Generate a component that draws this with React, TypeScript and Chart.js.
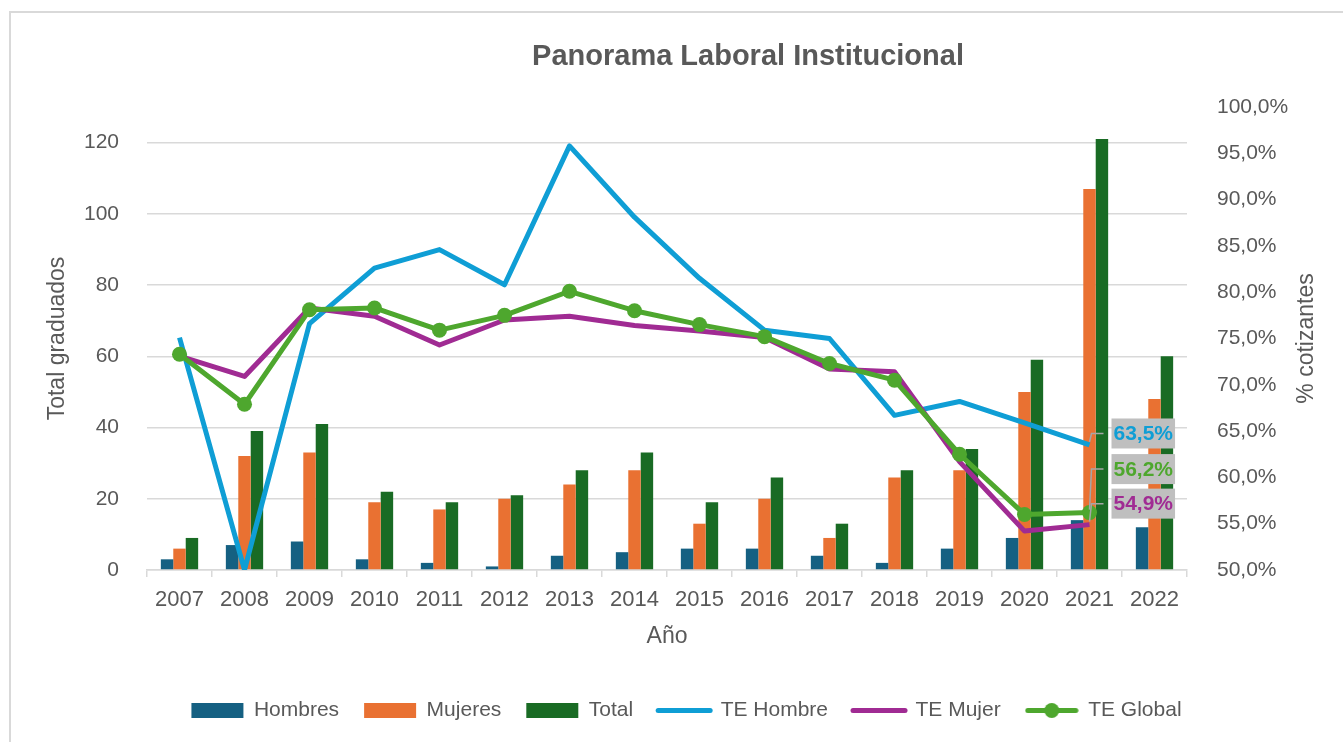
import React, { useEffect, useRef } from 'react';
import Chart from 'chart.js/auto';

// ---------- data ----------
const YEARS = ['2007', '2008', '2009', '2010', '2011', '2012', '2013', '2014', '2015', '2016', '2017', '2018', '2019', '2020', '2021', '2022'];
const HOMBRES = [3, 7, 8, 3, 2, 1, 4, 5, 6, 6, 4, 2, 6, 9, 14, 12];
const MUJERES = [6, 32, 33, 19, 17, 20, 24, 28, 13, 20, 9, 26, 28, 50, 107, 48];
const TOTAL = [9, 39, 41, 22, 19, 21, 28, 33, 19, 26, 13, 28, 34, 59, 121, 60];
const TE_HOMBRE = [75.1, 50.0, 76.6, 82.6, 84.6, 80.8, 95.8, 88.1, 81.5, 75.9, 75.0, 66.7, 68.2, 65.9, 63.5, null];
const TE_MUJER = [73.1, 70.9, 78.3, 77.4, 74.3, 77.0, 77.4, 76.4, 75.8, 75.1, 71.7, 71.4, 61.7, 54.2, 54.9, null];
const TE_GLOBAL = [73.3, 67.9, 78.1, 78.3, 75.9, 77.5, 80.1, 78.0, 76.5, 75.2, 72.3, 70.5, 62.5, 56.0, 56.2, null];

const LEFT_MIN = 0;
const LEFT_MAX = 130;
const LEFT_STEP = 20;
const RIGHT_MIN = 50;
const RIGHT_MAX = 100;
const RIGHT_STEP = 5;

const TITLE = 'Panorama Laboral Institucional';
const Y_TITLE = 'Total graduados';
const Y1_TITLE = '% cotizantes';
const X_TITLE = 'Año';
const LABEL_INDEX = 14; // 2021

// ---------- styles ----------
const FONT = "'Liberation Sans', Arial, sans-serif";
const GRAY = '#595959';
const GRID = '#D9D9D9';
const C_HOMBRES = '#156082';
const C_MUJERES = '#E97132';
const C_TOTAL = '#196B24';
const C_TEH = '#0F9ED5';
const C_TEM = '#A02B93';
const C_TEG = '#4EA72E';

const fmtPct = (v: number) => v.toFixed(1).replace('.', ',') + '%';

const END_LABELS = [
  { ds: 3, dy: -11.5, color: C_TEH },
  { ds: 5, dy: -43.5, color: C_TEG },
  { ds: 4, dy: -21, color: C_TEM },
];

const extrasPlugin = {
  id: 'extras',
  afterLayout(chart: any) {
    const t = chart.titleBlock;
    if (t) {
      const w = t.right - t.left;
      t.left = 748 - w / 2;
      t.right = t.left + w;
    }
  },
  afterDatasetsDraw(chart: any) {
    const ctx = chart.ctx;
    ctx.save();
    END_LABELS.forEach(({ ds, dy, color }) => {
      const pt = chart.getDatasetMeta(ds).data[LABEL_INDEX];
      const v = chart.data.datasets[ds].data[LABEL_INDEX];
      if (!pt || v == null) return;
      ctx.font = `bold 21px ${FONT}`;
      const text = fmtPct(v);
      const tw = ctx.measureText(text).width;
      const bx = pt.x + 22;
      const cy = pt.y + dy;
      const bw = tw + 4;
      const bh = 30;
      ctx.strokeStyle = '#A6A6A6';
      ctx.lineWidth = 1.5;
      ctx.beginPath();
      ctx.moveTo(bx - 8, cy);
      ctx.lineTo(pt.x + 2, cy);
      ctx.lineTo(pt.x, pt.y - 3);
      ctx.stroke();
      ctx.fillStyle = '#BFBFBF';
      ctx.fillRect(bx, cy - bh / 2, bw, bh);
      ctx.fillStyle = color;
      ctx.textAlign = 'left';
      ctx.textBaseline = 'middle';
      ctx.fillText(text, bx + 2, cy + 1);
    });
    ctx.restore();
  },
  afterDraw(chart: any) {
    const ctx = chart.ctx;
    const s = chart.scales.y1;
    const ca = chart.chartArea;
    ctx.save();
    ctx.font = `23px ${FONT}`;
    ctx.fillStyle = GRAY;
    ctx.textAlign = 'center';
    ctx.textBaseline = 'middle';
    ctx.translate(s.right - 36.6, (ca.top + ca.bottom) / 2);
    ctx.rotate(-Math.PI / 2);
    ctx.fillText(Y1_TITLE, 0, 0);
    ctx.restore();
  },
};

function makeMarker(): HTMLCanvasElement {
  const c = document.createElement('canvas');
  c.width = 54;
  c.height = 17;
  const g = c.getContext('2d')!;
  g.strokeStyle = C_TEG;
  g.lineWidth = 5;
  g.lineCap = 'round';
  g.beginPath();
  g.moveTo(3, 8.5);
  g.lineTo(51, 8.5);
  g.stroke();
  g.fillStyle = C_TEG;
  g.beginPath();
  g.arc(27, 8.5, 7.5, 0, Math.PI * 2);
  g.fill();
  return c;
}

export default function App() {
  const ref = useRef<HTMLCanvasElement>(null);

  useEffect(() => {
    const marker = makeMarker();
    const chart = new Chart(ref.current!, {
      type: 'bar',
      data: {
        labels: YEARS,
        datasets: [
          { label: 'Hombres', data: HOMBRES, backgroundColor: C_HOMBRES, yAxisID: 'y', order: 4 },
          { label: 'Mujeres', data: MUJERES, backgroundColor: C_MUJERES, yAxisID: 'y', order: 4 },
          { label: 'Total', data: TOTAL, backgroundColor: C_TOTAL, yAxisID: 'y', order: 4 },
          {
            type: 'line', label: 'TE Hombre', data: TE_HOMBRE, yAxisID: 'y1', order: 3,
            borderColor: C_TEH, backgroundColor: C_TEH, borderWidth: 5, pointRadius: 0,
            tension: 0, borderJoinStyle: 'round', spanGaps: false,
          },
          {
            type: 'line', label: 'TE Mujer', data: TE_MUJER, yAxisID: 'y1', order: 2,
            borderColor: C_TEM, backgroundColor: C_TEM, borderWidth: 5, pointRadius: 0,
            tension: 0, borderJoinStyle: 'round', spanGaps: false,
          },
          {
            type: 'line', label: 'TE Global', data: TE_GLOBAL, yAxisID: 'y1', order: 1,
            borderColor: C_TEG, backgroundColor: C_TEG, borderWidth: 5, pointRadius: 7.5,
            pointBorderWidth: 0, pointBackgroundColor: C_TEG,
            tension: 0, borderJoinStyle: 'round', spanGaps: false,
          },
        ] as any,
      },
      options: {
        responsive: false,
        animation: false,
        devicePixelRatio: 1,
        datasets: {
          bar: { categoryPercentage: 0.574, barPercentage: 1, borderWidth: 0 },
        },
        layout: { padding: { left: 30, right: 0, top: 0, bottom: 11 } },
        scales: {
          x: {
            type: 'category',
            offset: true,
            grid: { offset: true, drawOnChartArea: false, drawTicks: true, tickLength: 7, color: GRID, lineWidth: 1.5 },
            border: { display: true, color: GRID, width: 1.5 },
            ticks: { color: GRAY, font: { family: FONT, size: 22 }, padding: 10, maxRotation: 0, autoSkip: false },
            title: { display: true, text: X_TITLE, color: GRAY, font: { family: FONT, size: 23 }, padding: { top: 0, bottom: 24.2 } },
            afterFit: (s: any) => { s.height = 105; },
          },
          y: {
            position: 'left',
            min: LEFT_MIN,
            max: LEFT_MAX,
            grid: { drawTicks: false, color: GRID, lineWidth: 1.5 },
            border: { display: false },
            ticks: { stepSize: LEFT_STEP, includeBounds: false, color: GRAY, font: { family: FONT, size: 21 }, padding: 28 },
            title: { display: true, text: Y_TITLE, color: GRAY, font: { family: FONT, size: 23 }, padding: { top: 14.2, bottom: 0 } },
            afterFit: (s: any) => { s.width = 117; },
          },
          y1: {
            position: 'right',
            min: RIGHT_MIN,
            max: RIGHT_MAX,
            grid: { display: false, drawOnChartArea: false },
            border: { display: false },
            ticks: {
              stepSize: RIGHT_STEP, color: GRAY, font: { family: FONT, size: 21 }, padding: 22,
              callback: (v: any) => fmtPct(Number(v)),
            },
            title: { display: false, text: Y1_TITLE },
            afterFit: (s: any) => { s.width = 156; },
          },
        } as any,
        plugins: {
          title: {
            display: true,
            text: TITLE,
            color: GRAY,
            font: { family: FONT, size: 29, weight: 'bold' },
            padding: { top: 39.6, bottom: 32.6 },
          },
          legend: {
            position: 'bottom',
            labels: {
              color: GRAY,
              font: { family: FONT, size: 21 },
              usePointStyle: true,
              pointStyleWidth: 52,
              boxHeight: 15,
              padding: 25,
              sort: (a: any, b: any) => a.datasetIndex - b.datasetIndex,
              generateLabels: (ch: any) => {
                const items = (Chart as any).defaults.plugins.legend.labels.generateLabels(ch);
                return items.map((it: any) => {
                  const i = it.datasetIndex;
                  if (i < 3) return { ...it, pointStyle: 'rect', lineWidth: 0 };
                  if (i < 5) return { ...it, pointStyle: 'line', lineWidth: 5, lineCap: 'round' };
                  return { ...it, pointStyle: marker, lineWidth: 0 };
                });
              },
            },
          },
          tooltip: { enabled: false },
        },
      } as any,
      plugins: [extrasPlugin],
    });
    return () => chart.destroy();
  }, []);

  return (
    <div>
      <div
        style={{
          position: 'fixed', left: 9, top: 11, width: 1400, height: 800,
          borderLeft: '2px solid #D9D9D9', borderTop: '2px solid #D9D9D9', boxSizing: 'border-box',
        }}
      />
      <canvas
        ref={ref}
        width={1343}
        height={742}
        style={{ position: 'fixed', left: 0, top: 0, width: 1343, height: 742 }}
      />
    </div>
  );
}
